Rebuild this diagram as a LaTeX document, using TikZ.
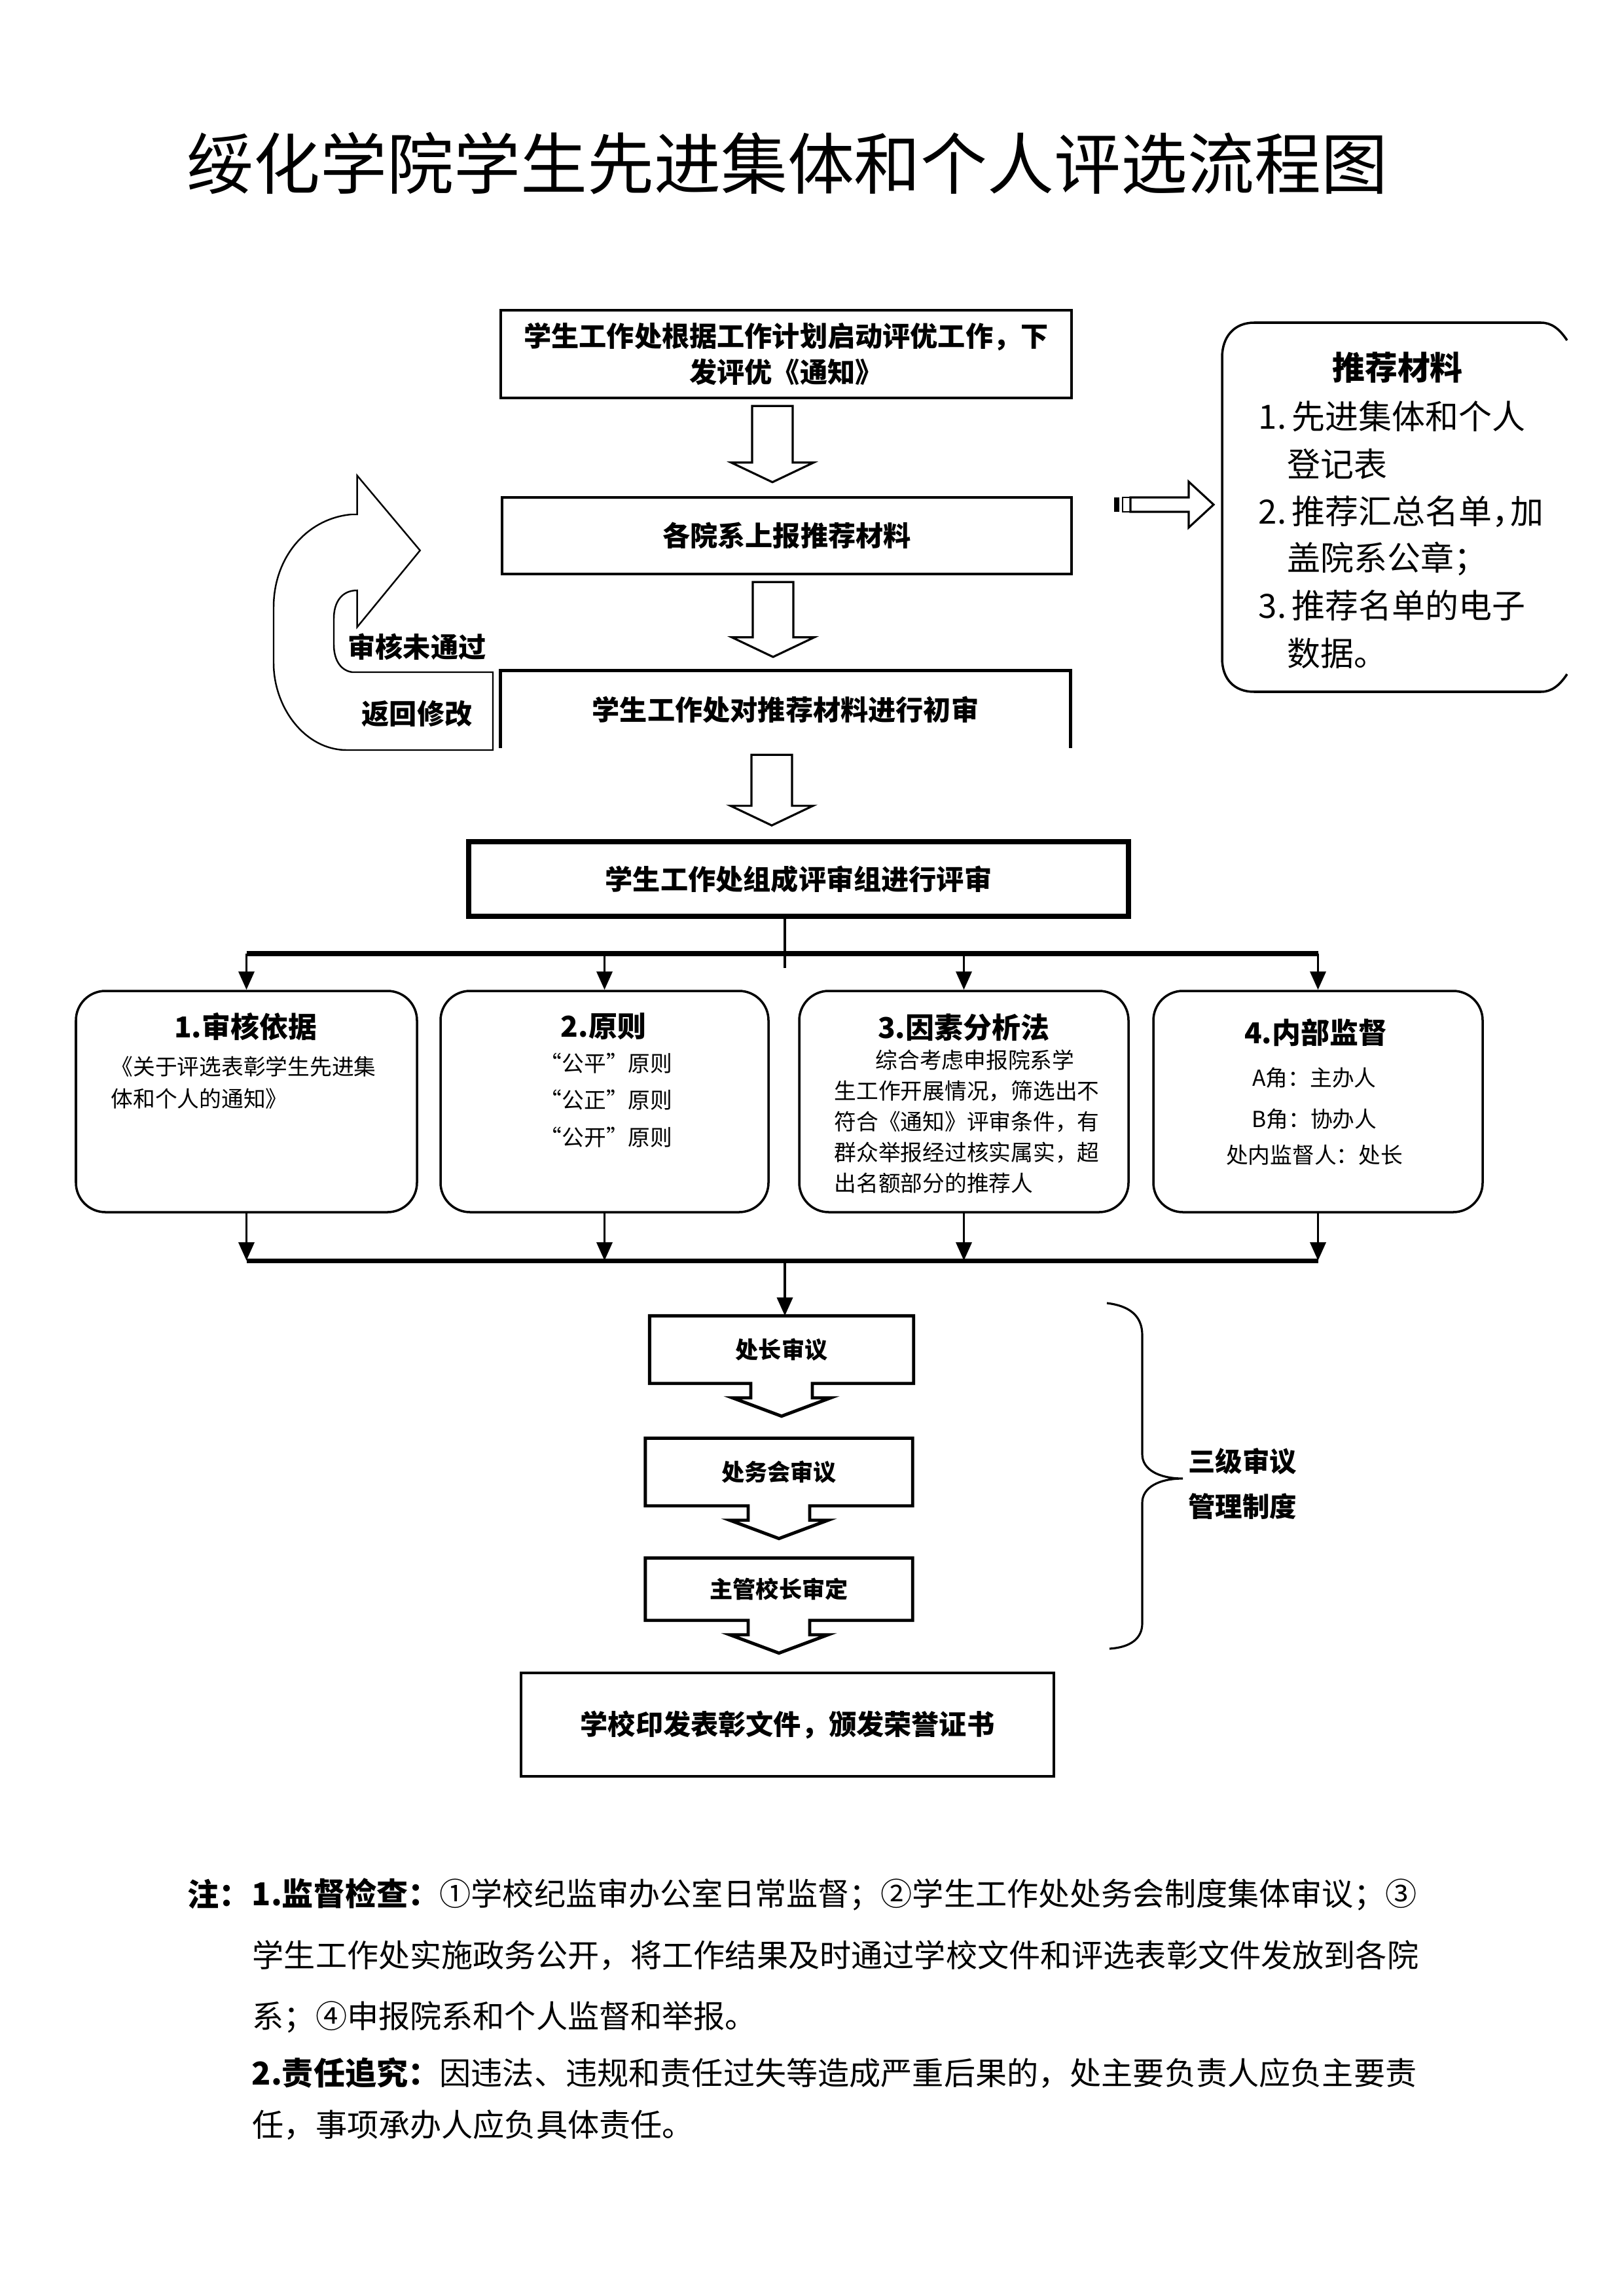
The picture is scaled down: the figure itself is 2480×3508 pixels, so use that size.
\documentclass[tikz,border=0pt]{standalone}
\usepackage{fontspec}
\setmainfont{Noto Sans CJK SC}
\usetikzlibrary{arrows.meta,calc}
\newcommand\fsz[2]{\fontsize{#1pt}{#2pt}\selectfont}
\tikzset{
  flowbox/.style={draw, line width=1.3pt, inner sep=0pt, font=\bfseries\fsz{12}{15.6}, align=center},
  rbox/.style={draw, line width=1pt, rounded corners=4.5mm, minimum height=33.8mm, inner sep=0pt},
  arr/.style={line width=1.1pt, -{Triangle[length=2.8mm,width=2.4mm]}},
  barline/.style={line width=2pt},
  hollow/.style={draw, line width=0.9pt, fill=white, line join=miter},
  txt/.style={inner sep=0pt},
  rtitle/.style={txt, font=\bfseries\fsz{12.5}{15}},
  rbody/.style={txt, font=\fsz{9.6}{13}},
  revbox/.style={txt, font=\bfseries\fsz{10}{12}},
  revline/.style={line width=1.4pt, line join=miter},
  note/.style={txt, anchor=west, font=\fsz{13.7}{16}},
  mat/.style={txt, anchor=west, font=\fsz{14.5}{17}}
}
\newcommand\hollowconn[2]{%
  \draw[hollow] let \p1=($(#1.south)+(-21,0)$), \p2=(#2.north) in
   (\x1-3.1mm,\y1-1.0mm) -- (\x1+3.1mm,\y1-1.0mm) -- (\x1+3.1mm,\y2+5.1mm) --
   (\x1+6.3mm,\y2+5.1mm) -- (\x1,\y2+2.1mm) -- (\x1-6.3mm,\y2+5.1mm) --
   (\x1-3.1mm,\y2+5.1mm) -- cycle;}
\newcommand\reviewout[1]{%
  \draw[revline] (#1.south west) -- (#1.north west) -- (#1.north east) -- (#1.south east) --
   ($(#1.south)+(47,0)$) -- ++(0,22) -- ++(28,0) -- ($(#1.south)+(0,50)$) --
   ($(#1.south)+(-75,22)$) -- ++(28,0) -- ($(#1.south)+(-47,0)$) -- cycle;}
\begin{document}
\begin{tikzpicture}[x=0.1mm,y=-0.1mm]
\useasboundingbox (0,0) rectangle (2480,3508);

% title
\node[txt, font=\fsz{29}{34}] (title) at (1203,250) {绥化学院学生先进集体和个人评选流程图};

% main flow boxes
\node[flowbox, minimum width=87.2mm, minimum height=13.4mm] (b1) at (1201,541)
  {学生工作处根据工作计划启动评优工作，下\\发评优《通知》};
\node[flowbox, minimum width=87.0mm, minimum height=11.7mm] (b2) at (1202,818.5) {各院系上报推荐材料};
\node[flowbox, draw=none, minimum width=86.6mm, minimum height=11.4mm] (b3) at (1200,1084) {学生工作处对推荐材料进行初审};
\draw[line width=1.3pt] (b3.south west) -- (b3.north west) -- (b3.north east) -- (b3.south east);
\node[flowbox, line width=2.2pt, minimum width=100.8mm, minimum height=11.4mm] (b4) at (1220,1343) {学生工作处组成评审组进行评审};

\hollowconn{b1}{b2}
\hollowconn{b2}{b3}
\hollowconn{b3}{b4}

% return (U-turn) arrow
\draw[line width=0.7pt, line join=miter] (641.7,841) -- (545.7,726.7) -- (545.7,786) -- (536.7,786)
  .. controls (470,792) and (418,850) .. (418,928) -- (418,1013)
  .. controls (418,1080) and (465,1146) .. (530,1146) -- (753,1146) -- (753,1027) -- (538,1027)
  .. controls (518,1024) and (510,1005) .. (510,985) -- (510,945)
  .. controls (510,920) and (522,902) .. (545.7,902) -- (545.7,958) -- cycle;
\node[txt, font=\bfseries\fsz{12}{14}] (ret1) at (637,988) {审核未通过};
\node[txt, font=\bfseries\fsz{12}{14}] (ret2) at (637,1091) {返回修改};

% striped right arrow
\fill (1702,760) rectangle (1710,782);
\draw[line width=0.8pt] (1715,760) rectangle (1727,782);
\draw[hollow] (1727,760) -- (1816,760) -- (1816,736) -- (1854,771) -- (1816,806) -- (1816,782) -- (1727,782) -- cycle;

% materials box (right edge cut off)
\draw[line width=1pt] (2394,520) .. controls (2382,502) and (2370,493) .. (2354,493) -- (1916,493)
  .. controls (1885,493) and (1867,515) .. (1867,546) -- (1867,1006)
  .. controls (1867,1037) and (1885,1057) .. (1916,1057) -- (2354,1057)
  .. controls (2370,1057) and (2382,1048) .. (2394,1030);
\node[txt, font=\bfseries\fsz{14.2}{17}] (mt) at (2135,562) {推荐材料};
\node[mat] (m1) at (1922,636) {\makebox[1em][l]{1.}先进集体和个人};
\node[mat] (m2) at (1966,709) {登记表};
\node[mat] (m3) at (1922,782) {\makebox[1em][l]{2.}推荐汇总名单\makebox[0.55em][l]{，}加};
\node[mat] (m4) at (1966,854) {盖院系公章；};
\node[mat] (m5) at (1922,925) {\makebox[1em][l]{3.}推荐名单的电子};
\node[mat] (m6) at (1966,998) {数据。};

% four rounded boxes
\node[rbox, minimum width=52.1mm] (ra) at (376.5,1683) {};
\node[rbox, minimum width=50.1mm] (rb) at (923.5,1683) {};
\node[rbox, minimum width=50.3mm] (rc) at (1472.5,1683) {};
\node[rbox, minimum width=50.3mm] (rd) at (2013.5,1683) {};

\node[rtitle] (ta) at (375,1569) {1.审核依据};
\node[rbody, anchor=west] (ta1) at (169,1630) {《关于评选表彰学生先进集};
\node[rbody, anchor=west] (ta2) at (169,1679) {体和个人的通知》};

\node[rtitle] (tb) at (922,1568) {2.原则};
\node[rbody] (tb1) at (926,1625) {“公平”原则};
\node[rbody] (tb2) at (926,1681) {“公正”原则};
\node[rbody] (tb3) at (926,1738) {“公开”原则};

\node[rtitle] (tc) at (1472,1570) {3.因素分析法};
\node[rbody, anchor=west] (tc1) at (1337,1620) {综合考虑申报院系学};
\node[rbody, anchor=west] (tc2) at (1274,1667) {生工作开展情况，筛选出不};
\node[rbody, anchor=west] (tc3) at (1274,1714) {符合《通知》评审条件，有};
\node[rbody, anchor=west] (tc4) at (1274,1761) {群众举报经过核实属实，超};
\node[rbody, anchor=west] (tc5) at (1274,1808) {出名额部分的推荐人};

\node[rtitle] (td) at (2010,1578) {4.内部监督};
\node[rbody] (td1) at (2008,1647) {A角：主办人};
\node[rbody] (td2) at (2008,1710) {B角：协办人};
\node[rbody] (td3) at (2008,1765) {处内监督人：处长};

% branching connectors
\coordinate (bt) at (1199,1457);
\draw[line width=1.1pt] (bt |- b4.south) -- ++(0,75);
\draw[barline] (ra.north |- bt) -- (rd.north |- bt);
\foreach \n in {ra,rb,rc,rd} \draw[arr] (\n.north |- bt) -- (\n.north);

\coordinate (bb) at (1199,1926);
\foreach \n in {ra,rb,rc,rd} \draw[arr] (\n.south) -- (\n.south |- bb);
\draw[barline] (ra.south |- bb) -- (rd.south |- bb);

% review boxes
\node[revbox, minimum width=40.2mm, minimum height=10.2mm] (r1) at (1194,2062) {处长审议};
\node[revbox, minimum width=40.7mm, minimum height=10.2mm] (r2) at (1190,2249) {处务会审议};
\node[revbox, minimum width=40.7mm, minimum height=9.4mm] (r3) at (1190,2428) {主管校长审定};
\reviewout{r1}
\reviewout{r2}
\reviewout{r3}
\draw[arr] (bb) -- (bb |- r1.north);

\node[draw, line width=0.9pt, inner sep=0pt, minimum width=81.4mm, minimum height=15.8mm,
  font=\bfseries\fsz{12}{14}] (fb) at (1203,2635) {学校印发表彰文件，颁发荣誉证书};

% brace
\draw[line width=0.9pt] (1691,1991) .. controls (1725,1995) and (1745,2010) .. (1745,2040) -- (1745,2222)
  .. controls (1745,2245) and (1770,2259) .. (1807,2259)
  .. controls (1770,2259) and (1745,2273) .. (1745,2296) -- (1745,2480)
  .. controls (1745,2505) and (1725,2517) .. (1695,2519);
\node[txt, font=\bfseries\fsz{11.8}{14}] (lv1) at (1898,2233) {三级审议};
\node[txt, font=\bfseries\fsz{11.8}{14}] (lv2) at (1898,2302) {管理制度};

% notes
\node[note] (n0) at (286,2894) {\textbf{注：}};
\node[note] (n1) at (384,2894) {\textbf{1.监督检查：}①学校纪监审办公室日常监督；②学生工作处处务会制度集体审议；③};
\node[note] (n2) at (385,2988) {学生工作处实施政务公开，将工作结果及时通过学校文件和评选表彰文件发放到各院};
\node[note] (n3) at (385,3082) {系；④申报院系和个人监督和举报。};
\node[note] (n4) at (384,3167) {\textbf{2.责任追究：}因违法、违规和责任过失等造成严重后果的，处主要负责人应负主要责};
\node[note] (n5) at (385,3247) {任，事项承办人应负具体责任。};
\end{tikzpicture}
\end{document}
